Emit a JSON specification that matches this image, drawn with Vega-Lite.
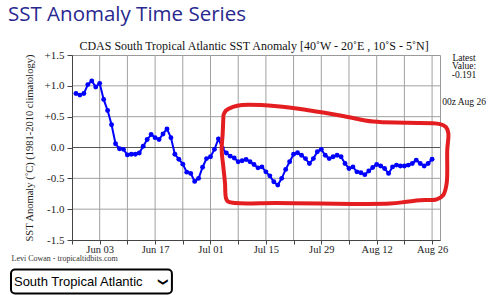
{
  "$schema": "https://vega.github.io/schema/vega-lite/v6.json",
  "width": 368,
  "height": 185,
  "autosize": {"type": "none"},
  "padding": {"left": 72, "top": 55, "right": 54, "bottom": 55},
  "background": "white",
  "title": {
    "text": "SST Anomaly Time Series",
    "anchor": "start",
    "frame": "group",
    "dx": -64,
    "offset": 15,
    "font": "Open Sans",
    "fontSize": 20.5,
    "fontWeight": "normal",
    "color": "#28288f"
  },
  "config": {
    "view": {"stroke": "#999", "strokeWidth": 1},
    "axis": {
      "labelFont": "Liberation Serif",
      "titleFont": "Liberation Serif",
      "titleFontWeight": "normal",
      "labelColor": "#222",
      "titleColor": "#222",
      "domainColor": "#444",
      "tickColor": "#444"
    }
  },
  "resolve": {"axis": {"x": "independent", "y": "independent"}},
  "datasets": {
    "week_lines": [
      {"date": "2024-06-03"}, {"date": "2024-06-10"}, {"date": "2024-06-17"}, {"date": "2024-06-24"},
      {"date": "2024-07-01"}, {"date": "2024-07-08"}, {"date": "2024-07-15"}, {"date": "2024-07-22"},
      {"date": "2024-07-29"}, {"date": "2024-08-05"}, {"date": "2024-08-12"}, {"date": "2024-08-19"},
      {"date": "2024-08-26"}
    ],
    "level_lines": [
      {"anomaly": -1}, {"anomaly": -0.5}, {"anomaly": 0.5}, {"anomaly": 1}
    ],
    "sst": [
      {"date": "2024-05-28", "anomaly": 0.875},
      {"date": "2024-05-29", "anomaly": 0.85},
      {"date": "2024-05-30", "anomaly": 0.875},
      {"date": "2024-05-31", "anomaly": 1.02},
      {"date": "2024-06-01", "anomaly": 1.08},
      {"date": "2024-06-02", "anomaly": 0.98},
      {"date": "2024-06-03", "anomaly": 1.04},
      {"date": "2024-06-04", "anomaly": 0.78},
      {"date": "2024-06-05", "anomaly": 0.6},
      {"date": "2024-06-06", "anomaly": 0.37},
      {"date": "2024-06-07", "anomaly": 0.06},
      {"date": "2024-06-08", "anomaly": -0.02},
      {"date": "2024-06-09", "anomaly": -0.03},
      {"date": "2024-06-10", "anomaly": -0.12},
      {"date": "2024-06-11", "anomaly": -0.11},
      {"date": "2024-06-12", "anomaly": -0.11},
      {"date": "2024-06-13", "anomaly": -0.09},
      {"date": "2024-06-14", "anomaly": 0.02},
      {"date": "2024-06-15", "anomaly": 0.13},
      {"date": "2024-06-16", "anomaly": 0.21},
      {"date": "2024-06-17", "anomaly": 0.16},
      {"date": "2024-06-18", "anomaly": 0.13},
      {"date": "2024-06-19", "anomaly": 0.22},
      {"date": "2024-06-20", "anomaly": 0.3},
      {"date": "2024-06-21", "anomaly": 0.16},
      {"date": "2024-06-22", "anomaly": -0.11},
      {"date": "2024-06-23", "anomaly": -0.19},
      {"date": "2024-06-24", "anomaly": -0.27},
      {"date": "2024-06-25", "anomaly": -0.4},
      {"date": "2024-06-26", "anomaly": -0.42},
      {"date": "2024-06-27", "anomaly": -0.55},
      {"date": "2024-06-28", "anomaly": -0.5},
      {"date": "2024-06-29", "anomaly": -0.32},
      {"date": "2024-06-30", "anomaly": -0.18},
      {"date": "2024-07-01", "anomaly": -0.15},
      {"date": "2024-07-02", "anomaly": -0.03},
      {"date": "2024-07-03", "anomaly": 0.14},
      {"date": "2024-07-04", "anomaly": -0.01},
      {"date": "2024-07-05", "anomaly": -0.09},
      {"date": "2024-07-06", "anomaly": -0.14},
      {"date": "2024-07-07", "anomaly": -0.17},
      {"date": "2024-07-08", "anomaly": -0.23},
      {"date": "2024-07-09", "anomaly": -0.215},
      {"date": "2024-07-10", "anomaly": -0.195},
      {"date": "2024-07-11", "anomaly": -0.23},
      {"date": "2024-07-12", "anomaly": -0.275},
      {"date": "2024-07-13", "anomaly": -0.33},
      {"date": "2024-07-14", "anomaly": -0.315},
      {"date": "2024-07-15", "anomaly": -0.395},
      {"date": "2024-07-16", "anomaly": -0.46},
      {"date": "2024-07-17", "anomaly": -0.555},
      {"date": "2024-07-18", "anomaly": -0.61},
      {"date": "2024-07-19", "anomaly": -0.5},
      {"date": "2024-07-20", "anomaly": -0.355},
      {"date": "2024-07-21", "anomaly": -0.23},
      {"date": "2024-07-22", "anomaly": -0.11},
      {"date": "2024-07-23", "anomaly": -0.085},
      {"date": "2024-07-24", "anomaly": -0.125},
      {"date": "2024-07-25", "anomaly": -0.18},
      {"date": "2024-07-26", "anomaly": -0.26},
      {"date": "2024-07-27", "anomaly": -0.18},
      {"date": "2024-07-28", "anomaly": -0.07},
      {"date": "2024-07-29", "anomaly": -0.03},
      {"date": "2024-07-30", "anomaly": -0.125},
      {"date": "2024-07-31", "anomaly": -0.18},
      {"date": "2024-08-01", "anomaly": -0.15},
      {"date": "2024-08-02", "anomaly": -0.125},
      {"date": "2024-08-03", "anomaly": -0.15},
      {"date": "2024-08-04", "anomaly": -0.26},
      {"date": "2024-08-05", "anomaly": -0.34},
      {"date": "2024-08-06", "anomaly": -0.315},
      {"date": "2024-08-07", "anomaly": -0.395},
      {"date": "2024-08-08", "anomaly": -0.41},
      {"date": "2024-08-09", "anomaly": -0.44},
      {"date": "2024-08-10", "anomaly": -0.38},
      {"date": "2024-08-11", "anomaly": -0.325},
      {"date": "2024-08-12", "anomaly": -0.275},
      {"date": "2024-08-13", "anomaly": -0.3},
      {"date": "2024-08-14", "anomaly": -0.34},
      {"date": "2024-08-15", "anomaly": -0.42},
      {"date": "2024-08-16", "anomaly": -0.315},
      {"date": "2024-08-17", "anomaly": -0.285},
      {"date": "2024-08-18", "anomaly": -0.3},
      {"date": "2024-08-19", "anomaly": -0.3},
      {"date": "2024-08-20", "anomaly": -0.285},
      {"date": "2024-08-21", "anomaly": -0.26},
      {"date": "2024-08-22", "anomaly": -0.205},
      {"date": "2024-08-23", "anomaly": -0.26},
      {"date": "2024-08-24", "anomaly": -0.3},
      {"date": "2024-08-25", "anomaly": -0.26},
      {"date": "2024-08-26", "anomaly": -0.191}
    ],
    "outline": [
      {"i": 1, "date": "2024-07-04T06:00:00Z", "anomaly": 0.52},
      {"i": 2, "date": "2024-07-04T22:00:00Z", "anomaly": 0.6},
      {"i": 3, "date": "2024-07-06T16:30:00Z", "anomaly": 0.66},
      {"i": 4, "date": "2024-07-08T23:00:00Z", "anomaly": 0.69},
      {"i": 5, "date": "2024-07-17T19:30:00Z", "anomaly": 0.67},
      {"i": 6, "date": "2024-07-26T03:30:00Z", "anomaly": 0.6},
      {"i": 7, "date": "2024-08-03T12:00:00Z", "anomaly": 0.51},
      {"i": 8, "date": "2024-08-11T02:00:00Z", "anomaly": 0.42},
      {"i": 9, "date": "2024-08-19T16:00:00Z", "anomaly": 0.4},
      {"i": 10, "date": "2024-08-28T00:00:00Z", "anomaly": 0.38},
      {"i": 11, "date": "2024-08-29T12:30:00Z", "anomaly": 0.33},
      {"i": 12, "date": "2024-08-30T02:30:00Z", "anomaly": 0.23},
      {"i": 13, "date": "2024-08-29T20:00:00Z", "anomaly": -0.04},
      {"i": 14, "date": "2024-08-29T16:30:00Z", "anomaly": -0.58},
      {"i": 15, "date": "2024-08-28T20:00:00Z", "anomaly": -0.77},
      {"i": 16, "date": "2024-08-27T04:00:00Z", "anomaly": -0.84},
      {"i": 17, "date": "2024-08-22T23:00:00Z", "anomaly": -0.855},
      {"i": 18, "date": "2024-08-19T14:00:00Z", "anomaly": -0.88},
      {"i": 19, "date": "2024-08-15T08:30:00Z", "anomaly": -0.91},
      {"i": 20, "date": "2024-07-28T16:00:00Z", "anomaly": -0.91},
      {"i": 21, "date": "2024-07-17T17:30:00Z", "anomaly": -0.9},
      {"i": 22, "date": "2024-07-05T12:00:00Z", "anomaly": -0.88},
      {"i": 23, "date": "2024-07-04T22:00:00Z", "anomaly": -0.82},
      {"i": 24, "date": "2024-07-04T16:00:00Z", "anomaly": -0.58},
      {"i": 25, "date": "2024-07-04T06:00:00Z", "anomaly": -0.32},
      {"i": 26, "date": "2024-07-03T20:00:00Z", "anomaly": -0.04},
      {"i": 27, "date": "2024-07-04T02:00:00Z", "anomaly": 0.23},
      {"i": 28, "date": "2024-07-04T06:00:00Z", "anomaly": 0.49}
    ]
  },
  "layer": [
    {
      "data": {"name": "week_lines"},
      "mark": {"type": "rule", "color": "#a0a0a0", "strokeWidth": 1},
      "encoding": {"x": {"field": "date", "type": "temporal", "axis": null}}
    },
    {
      "data": {"name": "level_lines"},
      "mark": {"type": "rule", "color": "#a0a0a0", "strokeWidth": 1},
      "encoding": {"y": {"field": "anomaly", "type": "quantitative", "axis": null}}
    },
    {
      "data": {"values": [{}]},
      "mark": {"type": "rule", "color": "#555", "strokeWidth": 1},
      "encoding": {"y": {"datum": 0, "type": "quantitative", "axis": null}}
    },
    {
      "data": {"name": "sst"},
      "mark": {"type": "line", "color": "#0000ff", "strokeWidth": 2},
      "encoding": {
        "x": {
          "field": "date",
          "type": "temporal",
          "scale": {
            "type": "utc",
            "domain": [
              {"year": 2024, "month": 5, "date": 27, "utc": true},
              {"year": 2024, "month": 8, "date": 28, "utc": true}
            ]
          },
          "axis": {
            "orient": "bottom",
            "values": [
              {"year": 2024, "month": 5, "date": 27, "utc": true},
              {"year": 2024, "month": 6, "date": 3, "utc": true},
              {"year": 2024, "month": 6, "date": 10, "utc": true},
              {"year": 2024, "month": 6, "date": 17, "utc": true},
              {"year": 2024, "month": 6, "date": 24, "utc": true},
              {"year": 2024, "month": 7, "date": 1, "utc": true},
              {"year": 2024, "month": 7, "date": 8, "utc": true},
              {"year": 2024, "month": 7, "date": 15, "utc": true},
              {"year": 2024, "month": 7, "date": 22, "utc": true},
              {"year": 2024, "month": 7, "date": 29, "utc": true},
              {"year": 2024, "month": 8, "date": 5, "utc": true},
              {"year": 2024, "month": 8, "date": 12, "utc": true},
              {"year": 2024, "month": 8, "date": 19, "utc": true},
              {"year": 2024, "month": 8, "date": 26, "utc": true}
            ],
            "labelExpr": "(round((datum.value - utc(2024, 5, 3)) / 86400000) % 14 == 0) ? utcFormat(datum.value, '%b %d') : ''",
            "labelFontSize": 10.5,
            "labelPadding": 0,
            "labelFlush": false,
            "labelOverlap": false,
            "tickSize": 4,
            "grid": false,
            "zindex": 1,
            "title": "Levi Cowan - tropicaltidbits.com",
            "titleFontSize": 8,
            "titleColor": "#333",
            "titleAlign": "left",
            "titleBaseline": "middle",
            "titleX": -61,
            "titleY": 18.5
          }
        },
        "y": {
          "field": "anomaly",
          "type": "quantitative",
          "scale": {"domain": [-1.5, 1.5], "nice": false},
          "axis": {
            "orient": "left",
            "values": [-1.5, -1, -0.5, 0, 0.5, 1, 1.5],
            "labelExpr": "datum.value > 0 ? '+' + format(datum.value, '.1f') : (datum.value < 0 ? '-' + format(abs(datum.value), '.1f') : '0.0')",
            "labelFontSize": 11,
            "labelPadding": 3,
            "labelFlush": false,
            "labelOverlap": false,
            "tickSize": 5,
            "grid": false,
            "zindex": 1,
            "title": "SST Anomaly (˚C) (1981-2010 climatology)",
            "titleFontSize": 10.5,
            "titlePadding": 10
          }
        }
      }
    },
    {
      "data": {"name": "sst"},
      "mark": {"type": "point", "filled": true, "color": "#0000ff", "size": 24, "opacity": 1},
      "encoding": {
        "x": {"field": "date", "type": "temporal", "axis": null},
        "y": {"field": "anomaly", "type": "quantitative", "axis": null}
      }
    },
    {
      "data": {"name": "outline"},
      "mark": {"type": "line", "color": "#e41e20", "strokeWidth": 4, "strokeCap": "round", "strokeJoin": "round", "interpolate": "catmull-rom"},
      "encoding": {
        "x": {"field": "date", "type": "temporal", "axis": null},
        "y": {"field": "anomaly", "type": "quantitative", "axis": null},
        "order": {"field": "i", "type": "quantitative"}
      }
    },
    {
      "data": {"values": [{}]},
      "mark": {"type": "text", "text": "CDAS South Tropical Atlantic SST Anomaly [40˚W - 20˚E , 10˚S - 5˚N]", "font": "Liberation Serif", "fontSize": 12, "align": "center", "baseline": "middle", "color": "#111"},
      "encoding": {
        "x": {"datum": {"year": 2024, "month": 7, "date": 12, "utc": true}, "type": "temporal", "axis": null},
        "y": {"datum": 1.643, "type": "quantitative", "axis": null}
      }
    },
    {
      "data": {"values": [{}]},
      "mark": {"type": "text", "text": ["Latest", "Value:", "-0.191"], "font": "Liberation Serif", "fontSize": 9.5, "lineHeight": 8.5, "align": "center", "baseline": "top", "color": "#111"},
      "encoding": {
        "x": {"datum": {"year": 2024, "month": 9, "date": 3, "hours": 2, "utc": true}, "type": "temporal", "axis": null},
        "y": {"datum": 1.54, "type": "quantitative", "axis": null}
      }
    },
    {
      "data": {"values": [{}]},
      "mark": {"type": "text", "text": "00z Aug 26", "font": "Liberation Serif", "fontSize": 9.5, "align": "center", "baseline": "middle", "color": "#111"},
      "encoding": {
        "x": {"datum": {"year": 2024, "month": 9, "date": 3, "hours": 2, "utc": true}, "type": "temporal", "axis": null},
        "y": {"datum": 0.74, "type": "quantitative", "axis": null}
      }
    },
    {
      "data": {"values": [{}]},
      "mark": {"type": "rect", "cornerRadius": 4, "fill": "white", "stroke": "black", "strokeWidth": 2},
      "encoding": {
        "x": {"datum": {"year": 2024, "month": 5, "date": 11, "hours": 14, "utc": true}, "type": "temporal", "axis": null},
        "x2": {"datum": {"year": 2024, "month": 6, "date": 21, "hours": 6, "utc": true}},
        "y": {"datum": -1.978, "type": "quantitative", "axis": null},
        "y2": {"datum": -2.367}
      }
    },
    {
      "data": {"values": [{}]},
      "mark": {"type": "text", "text": "South Tropical Atlantic", "font": "Liberation Sans", "fontSize": 13, "align": "left", "baseline": "middle", "color": "#000"},
      "encoding": {
        "x": {"datum": {"year": 2024, "month": 5, "date": 12, "hours": 8, "utc": true}, "type": "temporal", "axis": null},
        "y": {"datum": -2.18, "type": "quantitative", "axis": null}
      }
    },
    {
      "data": {"values": [{}]},
      "mark": {"type": "text", "text": "❯", "font": "DejaVu Sans", "fontSize": 10, "fontWeight": "bold", "angle": 90, "align": "center", "baseline": "middle", "color": "#000"},
      "encoding": {
        "x": {"datum": {"year": 2024, "month": 6, "date": 19, "hours": 2, "utc": true}, "type": "temporal", "axis": null},
        "y": {"datum": -2.18, "type": "quantitative", "axis": null}
      }
    }
  ]
}
